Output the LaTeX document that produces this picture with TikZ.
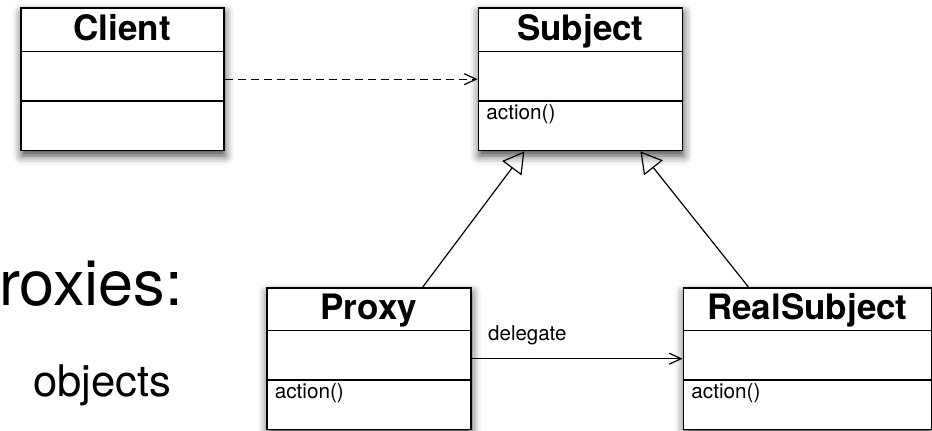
\documentclass[tikz,border=0pt]{standalone}
\usepackage{fontspec}
\setmainfont{TeX Gyre Heros}
\usepackage{tikz}
\usetikzlibrary{shapes.multipart,shadows.blur,arrows.meta,positioning}
\newcommand{\titlefont}{\bfseries\fontsize{35}{40}\selectfont}
\newcommand{\opfont}{\fontsize{20.7}{24}\selectfont}
\tikzset{
  umlclass/.style={rectangle split, rectangle split parts=3,
    rectangle split ignore empty parts=false,
    draw, line width=1.6pt, fill=white, inner xsep=8pt, inner ysep=0pt,
    anchor=north west,
    blur shadow={shadow xshift=1pt, shadow yshift=-5pt,
      shadow blur radius=9pt, shadow opacity=75}},
  uses/.style={line width=1.2pt, dash pattern=on 8pt off 5pt,
    -{Straight Barb[length=12pt,width=11pt]}},
  assoc/.style={line width=1.2pt, -{Straight Barb[length=12pt,width=11pt]}},
  inherit/.style={line width=1.2pt, -{Triangle[open,length=21pt,width=24pt]}}
}

\begin{document}
\begin{tikzpicture}[x=1pt, y=-1pt]
  \useasboundingbox (0,0) rectangle (932,431);
  % slide text behind the diagram
  \node[anchor=base west, inner sep=0, font=\fontsize{63}{70}\selectfont] (slideA) at (-1,305) {roxies:};
  \node[anchor=base west, inner sep=0, font=\fontsize{43.6}{50}\selectfont] (slideB) at (33,396) {objects};
  % classes
  \node[umlclass] (client) at (20,7)
    {\makebox[187pt]{\titlefont\rule[-10pt]{0pt}{42pt}Client}
     \nodepart{two}\rule[-24pt]{0pt}{48pt}
     \nodepart{three}\makebox[187pt][l]{\opfont\rule[-30pt]{0pt}{48pt}}};
  \node[umlclass, right=253pt of client.north east, anchor=north west] (subject)
    {\makebox[188pt]{\titlefont\rule[-10pt]{0pt}{42pt}Subject}
     \nodepart{two}\rule[-24pt]{0pt}{48pt}
     \nodepart{three}\makebox[188pt][l]{\opfont\rule[-30pt]{0pt}{48pt}action()}};
  \node[umlclass] (proxy) at (266,287)
    {\makebox[188pt]{\titlefont\rule[-10pt]{0pt}{41pt}Proxy}
     \nodepart{two}\rule[-24pt]{0pt}{48pt}
     \nodepart{three}\makebox[188pt][l]{\opfont\rule[-30pt]{0pt}{48pt}action()}};
  \node[umlclass, right=211pt of proxy.north east, anchor=north west] (realsubject)
    {\makebox[232pt]{\titlefont\rule[-10pt]{0pt}{41pt}RealSubject}
     \nodepart{two}\rule[-24pt]{0pt}{48pt}
     \nodepart{three}\makebox[232pt][l]{\opfont\rule[-30pt]{0pt}{48pt}action()}};
  % relations
  \draw[uses] (client.east) -- (subject.west);
  \draw[inherit] ([xshift=54pt]proxy.north) -- ([xshift=-56pt]subject.south);
  \draw[inherit] ([xshift=-59pt]realsubject.north) -- ([xshift=60pt]subject.south);
  \draw[assoc] (proxy.east) -- (realsubject.west);
  \node[anchor=base west, inner sep=0, font=\fontsize{20.5}{24}\selectfont] (dlabel) at (488,340) {delegate};
\end{tikzpicture}
\end{document}
